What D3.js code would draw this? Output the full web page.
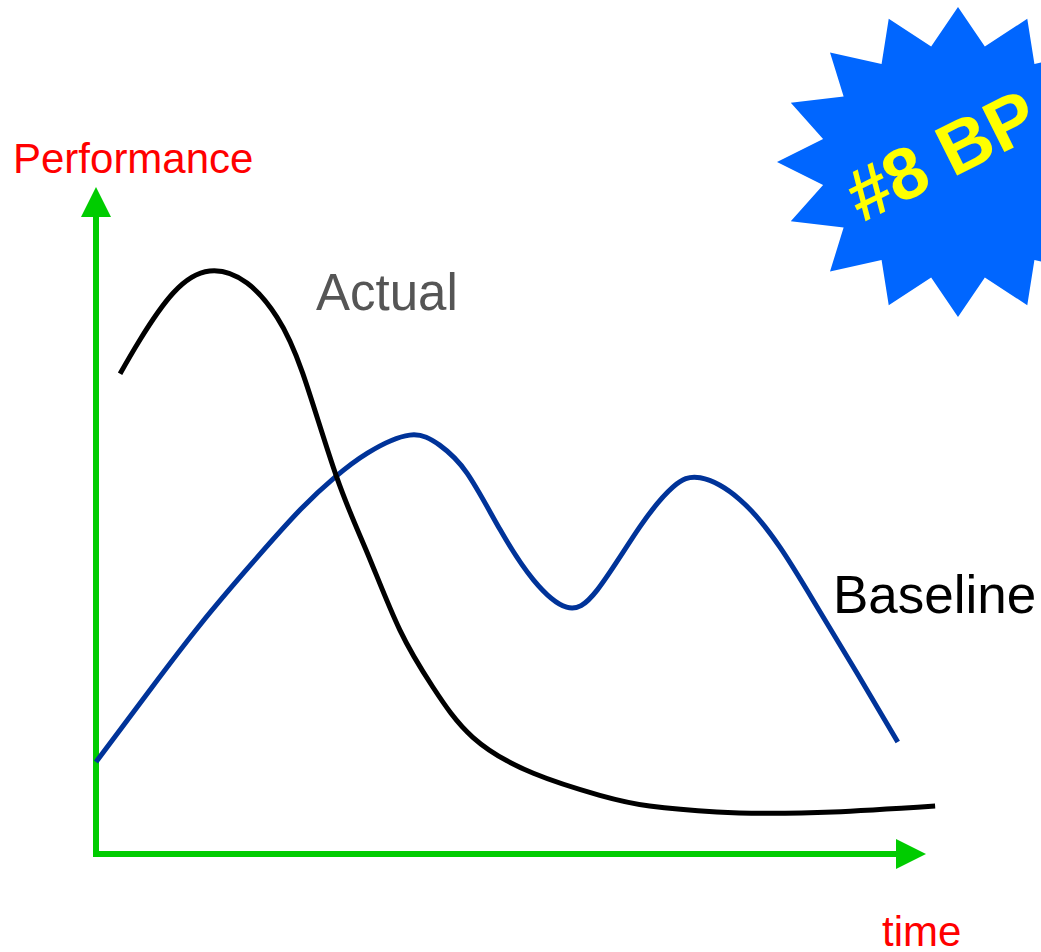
<!DOCTYPE html>
<html>
<head>
<meta charset="utf-8">
<script src="https://cdn.jsdelivr.net/npm/d3@7"></script>
<style>
  html, body { margin: 0; padding: 0; background: #ffffff; }
  svg { display: block; }
  text { font-family: "Liberation Sans", Arial, sans-serif; }
</style>
</head>
<body>
<svg id="chart" width="1041" height="952"></svg>
<script>
// ---- data (time 0-100, performance 0-100) ----
const actualTime = [2.9, 5.3, 9.3, 13.7, 18.2, 21.8, 24.9, 29.0, 32.7, 36.6, 40.6, 45.4, 52.7, 60.7, 66.7, 74.8, 80.8, 88.8, 101.1];
const actualPerf = [72.0, 77.1, 84.1, 87.4, 85.6, 80.5, 72.1, 56.5, 45.1, 33.6, 25.0, 17.5, 12.1, 8.8, 7.2, 6.3, 6.1, 6.3, 7.2];

const baselineTime = [0, 6.5, 12.5, 18.6, 24.6, 28.8, 32.7, 37.8, 41.4, 44.7, 48.7, 52.7, 56.7, 60.4, 65.5, 69.5, 72.8, 77.6, 82.4, 86.9, 91.7, 96.6];
const baselinePerf = [13.8, 24.6, 34.3, 43.3, 51.6, 56.5, 60.1, 62.8, 61.3, 57.1, 48.6, 41.1, 37.0, 39.6, 49.0, 55.0, 56.4, 53.1, 46.0, 37.0, 27.1, 16.8];

const seriesLabels = ["Actual", "Baseline"];
const axisLabels = ["Performance", "time"];
const badgeText = "#8 BP";

// ---- layout ----
const svg = d3.select("#chart");
const x = d3.scaleLinear().domain([0, 100]).range([96, 926]);
const y = d3.scaleLinear().domain([0, 100]).range([854, 187]);

const green = "#00cc00";
const arrow = 30, half = 15;

// starburst badge
const cx = 958, cy = 162, rx = 181, ry = 155, inner = 0.76, nPts = 16;
const starPts = d3.range(nPts * 2).map(i => {
  const a = -Math.PI / 2 + i * Math.PI / nPts;
  const r = i % 2 === 0 ? 1 : inner;
  return [cx + rx * r * Math.cos(a), cy + ry * r * Math.sin(a)];
});
svg.append("polygon")
  .attr("points", starPts.map(p => p.join(",")).join(" "))
  .attr("fill", "#0066ff");
svg.append("text")
  .attr("transform", "translate(862,223) rotate(-26.5)")
  .attr("font-size", 73)
  .attr("font-weight", "bold")
  .attr("fill", "#ffff00")
  .text(badgeText);

// axes
const x0 = x(0), y0 = y(0), yTop = y(100), xEnd = x(100);
svg.append("line")
  .attr("x1", x0).attr("y1", y0 + 3).attr("x2", x0).attr("y2", yTop + arrow)
  .attr("stroke", green).attr("stroke-width", 6);
svg.append("polygon")
  .attr("points", [[x0, yTop], [x0 - half, yTop + arrow], [x0 + half, yTop + arrow]].map(p => p.join(",")).join(" "))
  .attr("fill", green);
svg.append("line")
  .attr("x1", x0 - 3).attr("y1", y0).attr("x2", xEnd - arrow).attr("y2", y0)
  .attr("stroke", green).attr("stroke-width", 6);
svg.append("polygon")
  .attr("points", [[xEnd, y0], [xEnd - arrow, y0 - half], [xEnd - arrow, y0 + half]].map(p => p.join(",")).join(" "))
  .attr("fill", green);

// axis labels
svg.append("text").attr("x", 13).attr("y", 173)
  .attr("font-size", 42).attr("fill", "#ff0000").text(axisLabels[0]);
svg.append("text").attr("x", 882).attr("y", 946)
  .attr("font-size", 42).attr("fill", "#ff0000").text(axisLabels[1]);

// lines
const line = d3.line()
  .x(d => x(d[0])).y(d => y(d[1]))
  .curve(d3.curveNatural);

const baselineData = baselineTime.map((t, i) => [t, baselinePerf[i]]);
const actualData = actualTime.map((t, i) => [t, actualPerf[i]]);

svg.append("path").datum(baselineData)
  .attr("d", line).attr("fill", "none")
  .attr("stroke", "#003399").attr("stroke-width", 5);
svg.append("path").datum(actualData)
  .attr("d", line).attr("fill", "none")
  .attr("stroke", "#000000").attr("stroke-width", 5);

// series labels
svg.append("text").attr("x", 316).attr("y", 310)
  .attr("font-size", 51).attr("fill", "#555555").text(seriesLabels[0]);
svg.append("text").attr("x", 833).attr("y", 613)
  .attr("font-size", 53).attr("fill", "#000000").text(seriesLabels[1]);
</script>
</body>
</html>
